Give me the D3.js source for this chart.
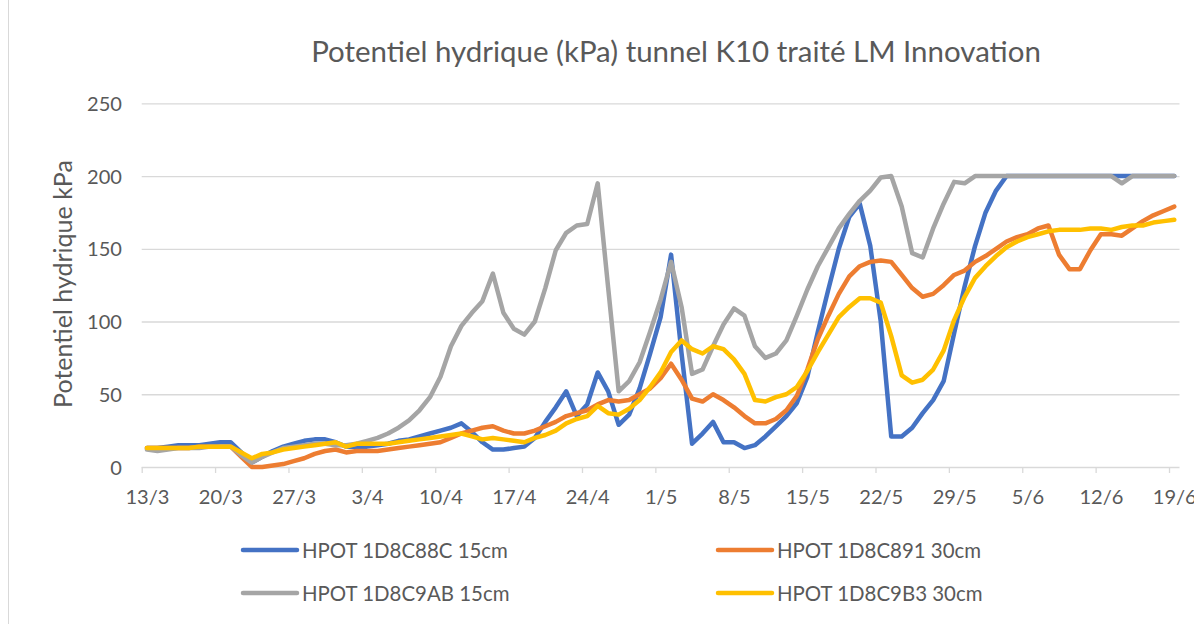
<!DOCTYPE html>
<html>
<head>
<meta charset="utf-8">
<script src="https://cdn.jsdelivr.net/npm/d3@7"></script>
<style>
  html, body { margin: 0; padding: 0; background: #ffffff; }
  svg { display: block; }
  text { font-family: Lato, "Open Sans", sans-serif; fill: #595959; }
</style>
</head>
<body>
<svg id="chart" width="1194" height="624"></svg>
<script>
// ---- data ----
const startDay = [2023, 2, 13];          // 13/3 (first daily reading)
const dayCount = 99;                      // 13/3 .. 19/6
const tickLabels = ["13/3","20/3","27/3","3/4","10/4","17/4","24/4","1/5","8/5","15/5","22/5","29/5","5/6","12/6","19/6"];
const yTicks = [0, 50, 100, 150, 200, 250];
const seriesNames = ["HPOT 1D8C88C 15cm", "HPOT 1D8C891 30cm", "HPOT 1D8C9AB 15cm", "HPOT 1D8C9B3 30cm"];
const seriesColors = ["#4472C4", "#ED7D31", "#A5A5A5", "#FFC000"];

const blue = [13,13,14,15,15,15,16,17,17,10, 3,7,11,14,16,18,19,19,17,14,
  14,14,15,16,18,19,21,23,25,27, 30,24,17,12,12,13,14,20,31,41,
  52,35,43,65,52,29,36,54,78,103, 146,78,16,23,31,17,17,13,15,21,
  28,35,44,62,93,122,150,172,181,152, 100,21,21,27,37,46,59,92,124,152,
  175,190,200,200,200,200,200,200,200,200, 200,200,200,200,200,200,200,200,200];
const orange = [13,13,13,13,13,14,14,14,14,7, 0,0,1,2,4,6,9,11,12,10,
  11,11,11,12,13,14,15,16,17,20, 23,25,27,28,25,23,23,25,28,31,
  35,37,39,43,46,45,46,50,54,61, 71,60,47,45,50,46,41,35,30,30,
  33,39,49,67,88,104,119,131,138,141, 142,141,132,123,117,119,125,132,135,141,
  145,150,155,158,160,164,166,146,136,136, 149,160,160,159,164,169,173,176,179];
const gray = [12,11,12,13,13,13,14,14,14,8, 3,7,10,13,14,15,16,16,15,15,
  16,18,20,23,27,32,39,48,62,83, 97,106,114,133,106,95,91,100,123,149,
  161,166,167,195,123,52,59,72,93,115, 141,110,64,67,83,98,109,104,83,75,
  78,87,104,122,138,151,164,174,183,190, 199,200,179,147,144,164,181,196,195,200,
  200,200,200,200,200,200,200,200,200,200, 200,200,200,195,200,200,200,200,200];
const yellow = [13,13,13,13,13,14,14,14,14,10, 6,9,10,12,13,14,15,16,17,14,
  16,16,16,16,17,18,19,20,21,22, 23,21,19,20,19,18,17,20,22,25,
  30,33,35,42,37,36,40,46,55,65, 79,87,81,78,83,81,74,64,46,45,
  48,50,55,66,79,91,103,110,116,116, 113,90,63,58,60,67,80,101,117,130,
  138,145,151,155,158,160,162,163,163,163, 164,164,163,165,166,166,168,169,170];
const seriesValues = [blue, orange, gray, yellow];

// ---- layout ----
const svg = d3.select("#chart");
const DAY = 864e5;
const t0 = Date.UTC(startDay[0], startDay[1], startDay[2]);
const dates = d3.range(dayCount).map(i => new Date(t0 + i * DAY + DAY / 2));
const tickDates = tickLabels.map((_, i) => new Date(t0 + i * 7 * DAY));
const labelDates = tickLabels.map((_, i) => new Date(t0 + i * 7 * DAY + DAY / 2));

const plotLeft = 141.7, plotRight = 1179.5, plotTop = 103.3, plotBottom = 467;
const x = d3.scaleUtc().domain([new Date(t0), new Date(t0 + dayCount * DAY)]).range([plotLeft, plotRight]);
const y = d3.scaleLinear().domain([0, 250]).range([plotBottom, plotTop]);

function fit(sel, target) {
  sel.style("font-size", "20px");
  const w = sel.node().getComputedTextLength();
  const fs = 20 * target / w;
  sel.style("font-size", fs + "px");
  return fs;
}

// left chart border
svg.append("line").attr("x1", 8.5).attr("x2", 8.5).attr("y1", 0).attr("y2", 624)
  .attr("stroke", "#d9d9d9").attr("stroke-width", 1);

// gridlines
const grid = svg.append("g").attr("transform", `translate(${plotLeft},0)`)
  .call(d3.axisLeft(y).tickValues(yTicks).tickSize(-(plotRight - plotLeft)).tickFormat(""));
grid.select(".domain").remove();
grid.selectAll(".tick line").attr("stroke", "#d9d9d9").attr("stroke-width", 1.3);

// x tick marks
const xt = svg.append("g").attr("transform", `translate(0,${plotBottom})`)
  .call(d3.axisBottom(x).tickValues(tickDates).tickSize(6).tickFormat(""));
xt.select(".domain").remove();
xt.selectAll(".tick line").attr("stroke", "#d9d9d9").attr("stroke-width", 1.3);

// measure a label font size
const probe = svg.append("text").text("13/3");
const tickFs = fit(probe, 44);
probe.remove();

// x tick labels (centred on the day)
const xl = svg.append("g").attr("transform", `translate(0,${plotBottom})`)
  .call(d3.axisBottom(x).tickValues(labelDates).tickSize(0).tickPadding(0).tickFormat((d, i) => tickLabels[i]));
xl.select(".domain").remove();
xl.selectAll(".tick text").attr("y", 30).attr("dy", "0.35em")
  .style("font-family", "Lato, sans-serif").style("font-size", tickFs + "px").attr("fill", "#595959");

// y tick labels
const yl = svg.append("g").attr("transform", `translate(122,0)`)
  .call(d3.axisLeft(y).tickValues(yTicks).tickSize(0).tickPadding(0));
yl.select(".domain").remove();
yl.selectAll(".tick text").attr("x", 0).attr("dy", "0.35em")
  .style("font-family", "Lato, sans-serif").style("font-size", tickFs + "px").attr("fill", "#595959");

// lines
const line = d3.line().x((d, i) => x(dates[i])).y(d => y(d));
seriesValues.forEach((vals, k) => {
  svg.append("path").datum(vals).attr("d", line)
    .attr("fill", "none").attr("stroke", seriesColors[k]).attr("stroke-width", 4.5)
    .attr("stroke-linejoin", "round").attr("stroke-linecap", "round");
});

// title
const title = svg.append("text").attr("x", 676).attr("y", 50).attr("text-anchor", "middle")
  .attr("dominant-baseline", "central").text("Potentiel hydrique (kPa) tunnel K10 traité LM Innovation");
fit(title, 730);

// y axis title
const ytitle = svg.append("text").attr("transform", "translate(62,284) rotate(-90)")
  .attr("text-anchor", "middle").attr("dominant-baseline", "central").text("Potentiel hydrique kPa");
fit(ytitle, 248);

// legend
const legendPos = [[243, 550], [718, 550], [243, 593], [718, 593]];
let legFs = null;
seriesNames.forEach((name, k) => {
  const [lx, ly] = legendPos[k];
  svg.append("line").attr("x1", lx).attr("x2", lx + 54).attr("y1", ly).attr("y2", ly)
    .attr("stroke", seriesColors[k]).attr("stroke-width", 4.5).attr("stroke-linecap", "round");
  const t = svg.append("text").attr("x", lx + 59).attr("y", ly).attr("dominant-baseline", "central").text(name);
  if (legFs === null) legFs = fit(t, 206); else t.style("font-size", legFs + "px");
});
</script>
</body>
</html>
